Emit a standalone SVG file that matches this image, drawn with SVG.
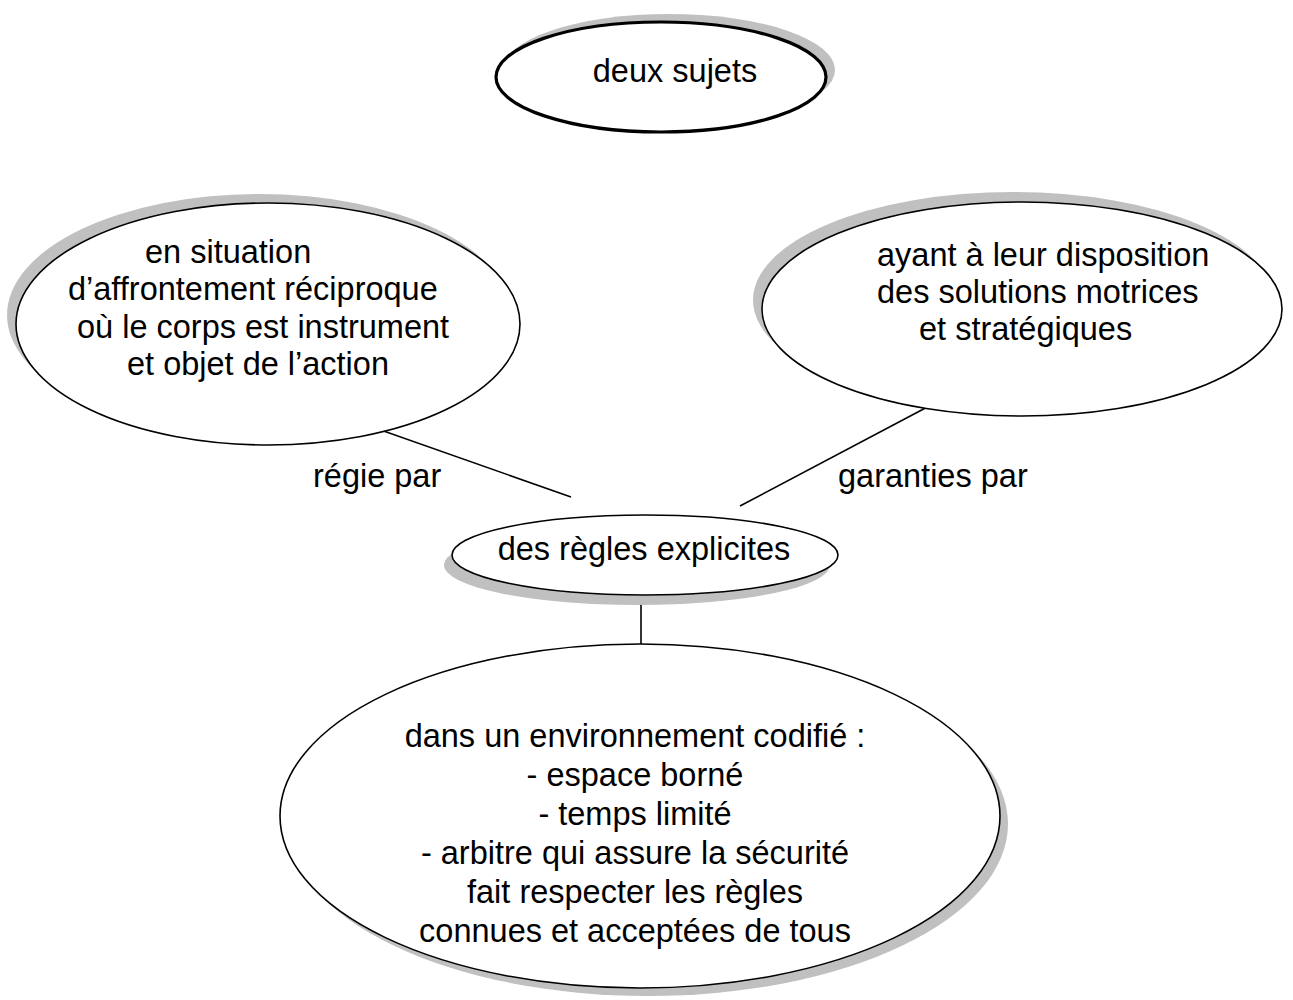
<svg xmlns="http://www.w3.org/2000/svg" width="1293" height="1000" viewBox="0 0 1293 1000">
<style>
.shadow{fill:#c0c0c0;stroke:none}
.node{fill:#ffffff;stroke:#000000;stroke-width:1.6}
.thick{stroke-width:3.2}
.t{font-family:"Liberation Sans",Arial,sans-serif;font-size:32.5px;fill:#000000}
.c{text-anchor:middle}
.conn line{stroke:#000000;stroke-width:1.6}
</style>
<rect width="1293" height="1000" fill="#ffffff"/>
<g id="connectors" class="conn">
<line x1="358" y1="422" x2="571" y2="497"/>
<line x1="933" y1="404" x2="740" y2="506"/>
<line x1="641" y1="595" x2="641" y2="645"/>
</g>
<g id="node-deux-sujets">
<ellipse class="shadow" cx="669" cy="70" rx="166" ry="56"/>
<ellipse class="node thick" cx="661" cy="77" rx="165" ry="55"/>
<text class="t c" x="675" y="82">deux sujets</text>
</g>
<g id="node-situation">
<ellipse class="shadow" cx="259" cy="315" rx="252" ry="121"/>
<ellipse class="node" cx="268" cy="324" rx="252" ry="121"/>
<text class="t" x="145" y="263">en situation</text>
<text class="t" x="68" y="300">d’affrontement réciproque</text>
<text class="t" x="77" y="338">où le corps est instrument</text>
<text class="t" x="127" y="375">et objet de l’action</text>
</g>
<g id="node-disposition">
<ellipse class="shadow" cx="1013" cy="300" rx="260" ry="108"/>
<ellipse class="node" cx="1022" cy="309" rx="260" ry="107"/>
<text class="t" x="877" y="266">ayant à leur disposition</text>
<text class="t" x="877" y="303">des solutions motrices</text>
<text class="t" x="919" y="340">et stratégiques</text>
</g>
<g id="node-regles">
<ellipse class="shadow" cx="637" cy="565" rx="193" ry="40"/>
<ellipse class="node" cx="645" cy="555" rx="193" ry="40"/>
<text class="t c" x="644" y="560">des règles explicites</text>
</g>
<g id="node-environnement">
<ellipse class="shadow" cx="648" cy="824" rx="360" ry="172"/>
<ellipse class="node" cx="640" cy="816" rx="360" ry="172"/>
<text class="t c" x="635" y="747">dans un environnement codifié :</text>
<text class="t c" x="635" y="786">- espace borné</text>
<text class="t c" x="635" y="825">- temps limité</text>
<text class="t c" x="635" y="864">- arbitre qui assure la sécurité</text>
<text class="t c" x="635" y="903">fait respecter les règles</text>
<text class="t c" x="635" y="942">connues et acceptées de tous</text>
</g>
<g id="labels">
<text class="t" x="313" y="487">régie par</text>
<text class="t" x="838" y="487">garanties par</text>
</g>
</svg>
